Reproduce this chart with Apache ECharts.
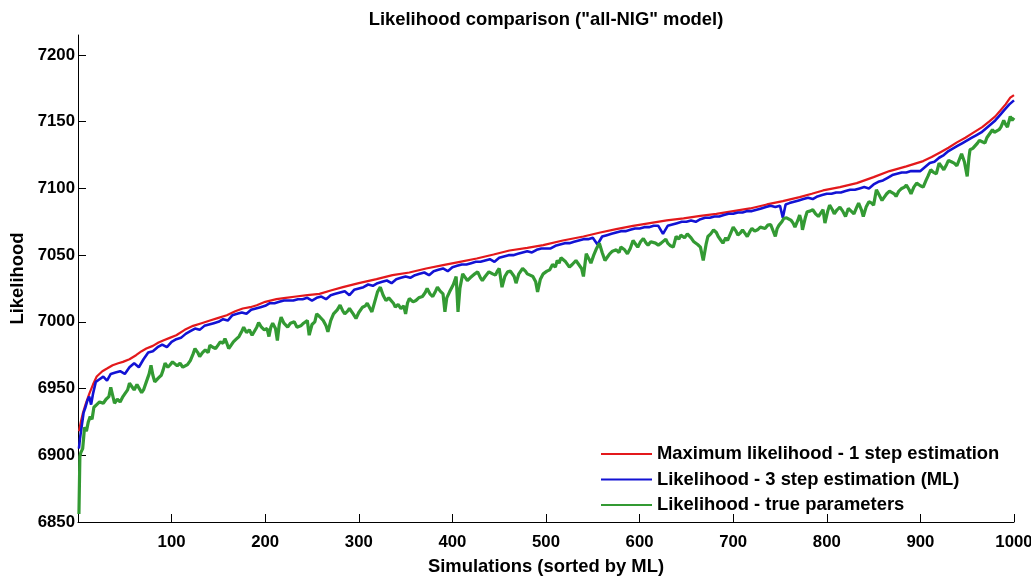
<!DOCTYPE html>
<html>
<head>
<meta charset="utf-8">
<script src="https://cdn.jsdelivr.net/npm/echarts@6/dist/echarts.min.js"></script>
<style>html,body{margin:0;padding:0;background:#fff;overflow:hidden}#chart{width:1031px;height:577px}</style>
</head>
<body>
<div id="chart"></div>
<script>
var xTicks = [100, 200, 300, 400, 500, 600, 700, 800, 900, 1000];
var yTicks = [6850, 6900, 6950, 7000, 7050, 7100, 7150, 7200];
var seriesNames = ['Maximum likelihood - 1 step estimation', 'Likelihood - 3 step estimation (ML)', 'Likelihood - true parameters'];

var mlOneStep = [[1,6918],[3,6925],[5,6931],[8,6938],[12,6946],[16,6953],[20,6959],[26,6963],[31,6965],[37,6967.5],[43,6969],[48,6970],[55,6972],[62,6975],[68,6978],[73,6980],[80,6982],[86,6984.5],[91,6986],[98,6988],[105,6990],[114,6994],[123,6997],[132,6999],[141,7001],[150,7003],[159,7005],[168,7008],[176,7010],[184,7011],[191,7012.5],[200,7015],[212,7017],[222,7018],[233,7019],[245,7020],[258,7021],[270,7023.5],[283,7026],[300,7029],[319,7032],[336,7035],[354,7037],[372,7040],[390,7042.5],[408,7045],[426,7047.5],[444,7050.5],[461,7053.5],[480,7055.5],[497,7057.5],[518,7061],[540,7064],[558,7067],[575,7069.5],[593,7072],[611,7074],[629,7076],[647,7077.5],[665,7079.5],[682,7081],[700,7083],[718,7085],[736,7088],[753,7090.5],[771,7093.5],[784,7096],[796,7098.5],[814,7101],[832,7104],[850,7108.5],[867,7113],[885,7116.5],[903,7120.5],[912,7123.5],[921,7127],[930,7130.5],[939,7134.5],[948,7138],[957,7142],[966,7146],[974,7150.5],[980,7154],[985,7158],[991,7163],[996,7168],[1000,7170]];

var threeStep = [[1,6905],[2,6912],[4,6922],[6,6932],[8,6936],[10,6941],[12,6944],[14,6938],[16,6946],[19,6955],[23,6957],[27,6959],[31,6956],[35,6961],[40,6962],[45,6963],[50,6961],[55,6966],[60,6969],[65,6966],[70,6972],[75,6977],[80,6978],[85,6981],[90,6983],[95,6981],[100,6985],[105,6987],[110,6988],[115,6991],[120,6993],[125,6995],[130,6994],[135,6997],[140,6998],[145,6999],[150,7000],[155,7002],[160,7001],[165,7005],[170,7006],[175,7007],[180,7006],[185,7009],[190,7010],[195,7011],[200,7012],[205,7014],[210,7014],[215,7015],[220,7016],[225,7016],[230,7016],[235,7017],[240,7017],[245,7018],[250,7016],[255,7018],[260,7019],[265,7017],[270,7020],[275,7021],[280,7022],[285,7023],[290,7020],[295,7024],[300,7025],[305,7026],[310,7028],[315,7027],[320,7029],[325,7030],[330,7031],[335,7029],[340,7032],[345,7033],[350,7034],[355,7033],[360,7035],[365,7036],[370,7037],[375,7035],[380,7038],[385,7039],[390,7040],[395,7038],[400,7041],[405,7042],[410,7043],[415,7043],[420,7044],[425,7045],[430,7045],[435,7046],[440,7047],[445,7045],[450,7048],[455,7049],[460,7050],[465,7050],[470,7051],[475,7052],[480,7053],[485,7052],[490,7054],[495,7055],[500,7055],[505,7055],[510,7057],[515,7058],[520,7059],[525,7059],[530,7060],[535,7061],[540,7062],[545,7062],[550,7063],[555,7058],[560,7064],[565,7065],[570,7066],[575,7067],[580,7068],[585,7068],[590,7069],[595,7070],[600,7070],[605,7071],[610,7071],[615,7072],[620,7072],[625,7066],[630,7072],[635,7073],[640,7074],[645,7075],[650,7075],[655,7076],[660,7075],[665,7077],[670,7078],[675,7078],[680,7079],[685,7079],[690,7080],[695,7081],[700,7081],[705,7082],[710,7082],[715,7083],[720,7083],[725,7084],[730,7085],[735,7086],[740,7087],[745,7086],[750,7087],[753,7078],[756,7088],[760,7089],[765,7090],[770,7091],[775,7092],[780,7093],[785,7092],[790,7094],[795,7095],[800,7096],[805,7096],[810,7097],[815,7097],[820,7098],[825,7099],[830,7099],[835,7100],[840,7101],[845,7100],[850,7103],[855,7105],[860,7106],[865,7108],[870,7110],[875,7111],[880,7112],[885,7112],[890,7113],[895,7113],[900,7113],[905,7116],[910,7119],[915,7120],[920,7123],[925,7125],[930,7128],[935,7130],[940,7132],[945,7134],[950,7136],[955,7138],[960,7140],[965,7142],[970,7145],[975,7148],[980,7151],[985,7155],[990,7159],[995,7163],[1000,7166]];

var trueParams = [[1,6856],[2,6899],[3,6902],[5,6905],[7,6921],[9,6918],[11,6925],[13,6929],[15,6927],[17,6936],[20,6938],[23,6940],[27,6939],[30,6942],[33,6944],[35,6951],[37,6945],[39,6939],[42,6942],[45,6940],[48,6944],[50,6946],[53,6949],[55,6954],[58,6951],[60,6949],[63,6953],[65,6952.5],[68,6947],[70,6949],[73,6955],[76,6961],[78,6967.5],[80,6960],[82,6955],[86,6958],[89,6960],[91,6964],[93,6969],[96,6966],[98,6967.5],[101,6970],[103,6971],[106,6967],[109,6969],[112,6966],[114,6965],[117,6968],[120,6971],[123,6976],[125,6980],[128,6977],[130,6974],[133,6977],[136,6979],[139,6977],[141,6982.5],[144,6981],[147,6980],[150,6983],[152,6985],[155,6984],[157,6987.5],[159,6984],[161,6980],[164,6983],[166,6985],[169,6987],[172,6989],[175,6993],[177,6996],[180,6992],[183,6994],[186,6990],[188,6991],[191,6996],[193,6999.5],[196,6996],[199,6994],[202,6995],[204,6989],[206,6996],[208,6999],[211,6995],[213,6986],[215,6998],[217,7003.5],[220,6999],[224,6996],[227,6999],[231,7000],[234,6996],[238,6997],[241,6999],[245,7001],[247,6990],[250,6998],[253,7000],[255,7006],[258,7004],[262,7001],[265,6997],[267,6992.5],[270,7001],[273,7006],[277,7009],[280,7012.5],[283,7008],[285,7006],[288,7008],[290,7010],[294,7006],[297,7002.5],[300,7007],[304,7011],[307,7012],[309,7014],[312,7010],[314,7007.5],[317,7015],[320,7022.5],[323,7026],[326,7020],[329,7016],[332,7018],[334,7019],[337,7014],[339,7011],[342,7013],[345,7010],[348,7012],[350,7006],[352,7014],[354,7017.5],[358,7015],[361,7016],[364,7018],[368,7019],[371,7022],[373,7025],[376,7021],[379,7019],[382,7023],[384,7026],[387,7023],[390,7021],[392,7007.5],[394,7018],[397,7022.5],[401,7028],[404,7034],[406,7007.5],[408,7025],[411,7036],[414,7033],[416,7031],[419,7033],[421,7034],[424,7036],[427,7037.5],[430,7033],[432,7031],[435,7034],[439,7037.5],[443,7036],[446,7035],[448,7038],[450,7040],[453,7026],[456,7034],[459,7037.5],[462,7038],[464,7039],[466,7034],[468,7029],[471,7036],[475,7040],[478,7038],[480,7036],[483,7035],[486,7034],[489,7030],[491,7022.5],[494,7032],[497,7036],[501,7038],[504,7039],[507,7043],[510,7041],[512,7046],[514,7044],[516,7048],[518,7049],[521,7045],[525,7041],[528,7043],[532,7046],[535,7043],[538,7040],[540,7034],[543,7051],[546,7047],[548,7044],[551,7050],[554,7055],[557,7059],[560,7052],[563,7046],[566,7049],[568,7051],[571,7053],[575,7054],[578,7052],[580,7056],[584,7054],[587,7051],[590,7055],[593,7061],[596,7058],[598,7056],[601,7060],[604,7062.5],[607,7059],[609,7057.5],[612,7060],[614,7061],[617,7059],[620,7057.5],[623,7059],[625,7060],[628,7062],[630,7059],[633,7057],[636,7056],[639,7064],[642,7062],[644,7065],[648,7063],[651,7066],[655,7063],[658,7060],[662,7058],[665,7056],[668,7046],[671,7058],[673,7064],[676,7066],[679,7069],[682,7067],[684,7064],[687,7061],[689,7059],[692,7063],[694,7061],[697,7066],[700,7071],[703,7068],[705,7065],[708,7067],[710,7069],[713,7066],[715,7064],[718,7068],[720,7070],[723,7068],[726,7069],[729,7071],[731,7071.5],[734,7070],[737,7072.5],[740,7073],[742,7074],[745,7064],[747,7070],[749,7072.5],[752,7075],[754,7077.5],[757,7078],[759,7079],[762,7076],[764,7074],[766,7071],[769,7076],[771,7080],[773,7075],[774,7069],[777,7078],[779,7082.5],[782,7083],[785,7084],[788,7081],[791,7079],[794,7082],[796,7084],[798,7074],[801,7083],[803,7087.5],[806,7084],[808,7081],[811,7084],[814,7086],[817,7083],[820,7079],[823,7085],[826,7083],[829,7081],[832,7086],[834,7089],[837,7084],[839,7079],[842,7086],[845,7090],[848,7089],[850,7087.5],[853,7099],[856,7095],[859,7091],[862,7094],[864,7096],[867,7098],[869,7099],[872,7096],[874,7094],[877,7098],[880,7100],[883,7101],[885,7102.5],[888,7099],[890,7096],[893,7101],[896,7104],[900,7102],[903,7101],[906,7106],[908,7109],[911,7114],[914,7112],[917,7111],[920,7119],[923,7116],[925,7114],[928,7118],[930,7121],[933,7120],[936,7119],[939,7117],[941,7116],[944,7126],[947,7120],[950,7109],[952,7124],[953,7129],[956,7130],[958,7131],[961,7134],[963,7136],[966,7135],[969,7134],[971,7138],[974,7141],[977,7144],[979,7142],[981,7141],[984,7144],[986,7146],[989,7151],[991,7148],[993,7146],[996,7154],[998,7151],[1000,7153]];

var FONT = "'Liberation Sans', Arial, sans-serif";
function plain(v) { return String(v); }
var chart = echarts.init(document.getElementById('chart'), null, {renderer: 'canvas'});
chart.setOption({
  animation: false,
  backgroundColor: '#ffffff',
  title: {
    text: 'Likelihood comparison ("all-NIG" model)',
    left: 541, top: 6, textAlign: 'center',
    textStyle: {fontFamily: FONT, fontWeight: 'bold', fontSize: 18.4, color: '#000'}
  },
  legend: {
    orient: 'vertical', left: 601, top: 444, padding: 0,
    icon: 'rect', itemWidth: 51, itemHeight: 2, itemGap: 5.5,
    data: seriesNames,
    textStyle: {fontFamily: FONT, fontWeight: 'bold', fontSize: 18.4, color: '#000', lineHeight: 20}
  },
  grid: {left: 78, right: 17, top: 35, bottom: 55, containLabel: false, outerBoundsMode: 'none'},
  xAxis: {
    type: 'value', min: 0, max: 1000, interval: 100,
    name: 'Simulations (sorted by ML)', nameLocation: 'middle', nameGap: 36,
    nameTextStyle: {fontFamily: FONT, fontWeight: 'bold', fontSize: 18.4, color: '#000'},
    axisLine: {show: true, lineStyle: {color: '#000', width: 1}},
    axisTick: {show: true, inside: true, length: 8, lineStyle: {color: '#000'}, customValues: xTicks},
    axisLabel: {fontFamily: FONT, fontWeight: 'bold', fontSize: 16.8, color: '#000', margin: 12, customValues: xTicks, formatter: plain, hideOverlap: false},
    splitLine: {show: false}
  },
  yAxis: {
    type: 'value', min: 6850, max: 7215,
    name: 'Likelihood', nameLocation: 'middle', nameGap: 46,
    nameTextStyle: {fontFamily: FONT, fontWeight: 'bold', fontSize: 18.4, color: '#000'},
    axisLine: {show: true, lineStyle: {color: '#000', width: 1}},
    axisTick: {show: true, inside: true, length: 8, lineStyle: {color: '#000'}, customValues: yTicks},
    axisLabel: {fontFamily: FONT, fontWeight: 'bold', fontSize: 16.8, color: '#000', margin: 3, customValues: yTicks, formatter: plain},
    splitLine: {show: false}
  },
  series: [
    {name: seriesNames[0], type: 'line', data: mlOneStep, symbol: 'none', lineStyle: {color: '#e3191c', width: 2.2}, itemStyle: {color: '#e3191c'}},
    {name: seriesNames[1], type: 'line', data: threeStep, symbol: 'none', lineStyle: {color: '#1212d4', width: 2.6}, itemStyle: {color: '#1212d4'}},
    {name: seriesNames[2], type: 'line', data: trueParams, symbol: 'none', lineStyle: {color: '#339a33', width: 3.2}, itemStyle: {color: '#339a33'}}
  ]
});
</script>
</body>
</html>
